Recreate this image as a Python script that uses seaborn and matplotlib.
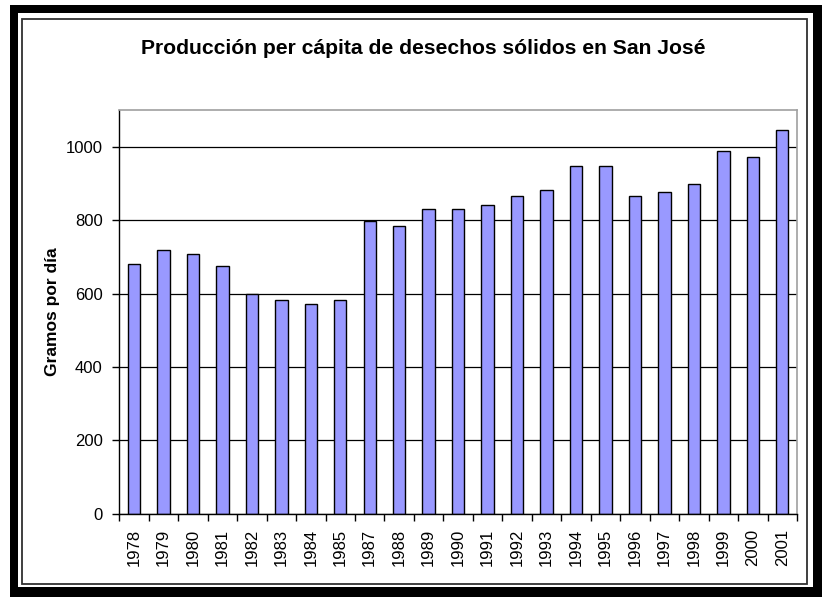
import pandas as pd
import seaborn as sns
import matplotlib.pyplot as plt
from matplotlib.patches import Rectangle

# data
years = ["1978", "1979", "1980", "1981", "1982", "1983", "1984", "1985",
         "1987", "1988", "1989", "1990", "1991", "1992", "1993", "1994",
         "1995", "1996", "1997", "1998", "1999", "2000", "2001"]
gramos = [680, 718, 708, 674, 600, 581, 572, 581,
          798, 785, 829, 829, 841, 866, 883, 947,
          947, 866, 877, 899, 988, 972, 1045]
yticks = [0, 200, 400, 600, 800, 1000]

df = pd.DataFrame({"Año": years, "Gramos": gramos})

sns.set_style("white")
plt.rcParams['font.family'] = ['Liberation Sans', 'DejaVu Sans']
plt.rcParams['text.color'] = 'black'
plt.rcParams['axes.labelcolor'] = 'black'
plt.rcParams['xtick.color'] = 'black'
plt.rcParams['ytick.color'] = 'black'

fig = plt.figure(figsize=(8.22, 5.97), dpi=100)
ax = fig.add_axes([0.1451, 0.1395, 0.8245, 0.6762])

sns.barplot(data=df, x="Año", y="Gramos", color="#9999FF", edgecolor="black",
            linewidth=1, width=0.42, saturation=1, ax=ax)

ax.set_ylim(0, 1100)
ax.set_xlim(-0.5, len(years) - 0.5)
ax.set_yticks(yticks)
ax.yaxis.grid(True, color="black", linewidth=0.9)
ax.set_axisbelow(True)

ax.tick_params(axis="y", direction="out", length=5, width=1, left=True,
               labelsize=12, pad=7, color="black")
ax.tick_params(axis="x", which="major", length=0, labelsize=12, labelrotation=90, pad=11)
ax.set_xticks([i + 0.5 for i in range(-1, len(years))], minor=True)
ax.tick_params(axis="x", which="minor", direction="out", length=5, width=1, bottom=True, color="black")

for s in ["left", "bottom"]:
    ax.spines[s].set_color("black")
    ax.spines[s].set_linewidth(1)
for s in ["top", "right"]:
    ax.spines[s].set_color("#A0A0A0")
    ax.spines[s].set_linewidth(1.2)

ax.set_xlabel("")
ax.set_ylabel("Gramos por día", fontsize=12.5, fontweight="bold")
ax.yaxis.set_label_coords(-0.088, 0.5)

fig.text(0.515, 0.919, "Producción per cápita de desechos sólidos en San José",
         ha="center", va="center", fontsize=15.2, fontweight="bold")

# chart frame with shadow like the original
W, H = 822, 597
fig.patches.append(Rectangle((10 / W, 0), (W - 10) / W, (H - 5) / H, transform=fig.transFigure,
                             facecolor="black", edgecolor="none", zorder=-3))
fig.patches.append(Rectangle((18 / W, 10 / H), (813 - 18) / W, (H - 13 - 10) / H, transform=fig.transFigure,
                             facecolor="white", edgecolor="none", zorder=-2))
fig.patches.append(Rectangle((22 / W, 13 / H), (807 - 22) / W, (H - 19 - 13) / H, transform=fig.transFigure,
                             facecolor="white", edgecolor="#303030", linewidth=1.3, zorder=-1))

fig.savefig("out.png", dpi=100)
